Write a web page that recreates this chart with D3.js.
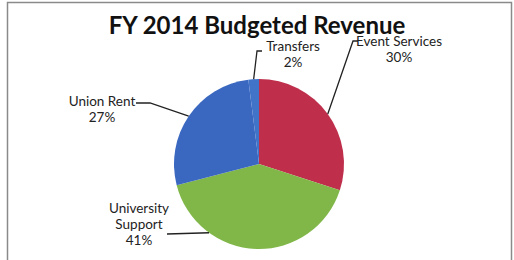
<!DOCTYPE html>
<html lang="en">
    <head>
        <meta charset="utf-8">
        <title>FY 2014 Budgeted Revenue</title>
        <script type="text/javascript" src="https://cdnjs.cloudflare.com/ajax/libs/d3/7.8.5/d3.min.js"></script>
        <style>
            body { margin: 0; background: #fff; }
            text { font-family: Lato, "Open Sans", sans-serif; fill: #222; }
        </style>
    </head>
    <body>
        <div id="chart"></div>
        <script type="text/javascript">
            // slices, clockwise from 12 o'clock
            var categories = ["Event Services", "University Support", "Union Rent", "Transfers"];
            var values = [30, 41, 27, 2];
            var colors = ["#bf2f4c", "#80b748", "#3a67c0", "#4173c9"];

            var width = 514;
            var height = 260;
            var cx = 259, cy = 164, radius = 85;

            // label placement: text anchor point, elbow of the leader line, angle where it hits the pie
            var labelLayout = [
                {x: 399, y: 46, elbow: [[353, 41]], tick: 5, edgeAngle: null},
                {x: 139, y: 213, elbow: [[167, 234]], tick: 0, edgeAngle: 216},
                {x: 102, y: 106, elbow: [[136, 103], [150, 103]], tick: 0, edgeAngle: null},
                {x: 293, y: 51, elbow: [[262, 51], [257, 51]], tick: 0, edgeAngle: null}
            ];

            var svg = d3.select("#chart")
                    .append("svg")
                    .attr("width", width)
                    .attr("height", height);

            // chart frame
            svg.append("rect")
                .attr("x", 7.5)
                .attr("y", 2.5)
                .attr("width", 504)
                .attr("height", 270)
                .attr("fill", "none")
                .attr("stroke", "#8a8a8a")
                .attr("stroke-width", 1.5);

            svg.append("text")
                .attr("x", 257)
                .attr("y", 34)
                .attr("text-anchor", "middle")
                .attr("font-weight", "bold")
                .attr("font-size", 24)
                .style("fill", "#111")
                .text("FY 2014 Budgeted Revenue");

            var pie = d3.pie().sort(null);
            var arcs = pie(values);
            var arc = d3.arc().innerRadius(0).outerRadius(radius);

            var g = svg.append("g")
                .attr("transform", "translate(" + cx + "," + cy + ")");

            g.selectAll("path")
                .data(arcs)
                .enter()
                .append("path")
                .attr("d", arc)
                .attr("fill", function(d, i){ return colors[i]; });

            // leader lines
            var line = d3.line();
            arcs.forEach(function(d, i){
                var L = labelLayout[i];
                var a = L.edgeAngle !== null ? L.edgeAngle * Math.PI / 180 : (d.startAngle + d.endAngle) / 2;
                var edge = [cx + radius * Math.sin(a), cy - radius * Math.cos(a)];
                var pts = L.elbow.slice();
                if (L.tick) pts.unshift([pts[0][0] + L.tick, pts[0][1]]);
                pts.push(edge);
                svg.append("path")
                    .attr("d", line(pts))
                    .attr("fill", "none")
                    .attr("stroke", "#222")
                    .attr("stroke-width", 1.3);
            });

            // labels
            arcs.forEach(function(d, i){
                var L = labelLayout[i];
                var words = categories[i] === "University Support" ? ["University", "Support"] : [categories[i]];
                var lines = words.concat([values[i] + "%"]);
                var t = svg.append("text")
                    .attr("text-anchor", "middle")
                    .attr("font-size", 13.5);
                lines.forEach(function(s, k){
                    t.append("tspan")
                        .attr("x", L.x)
                        .attr("y", L.y + k * 16)
                        .text(s);
                });
            });
        </script>
    </body>
</html>
